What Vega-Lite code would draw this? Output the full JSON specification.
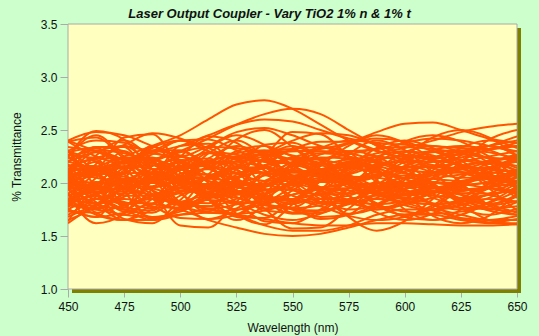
{
"$schema": "https://vega.github.io/schema/vega-lite/v6.json",
"autosize": "none",
"width": 449,
"height": 265,
"padding": {"left": 68, "top": 24, "right": 22, "bottom": 47},
"background": "#ccffcc",
"config": {"view": {"stroke": null}, "font": "Liberation Sans"},
"title": {"text": "Laser Output Coupler - Vary TiO2 1% n & 1% t", "font": "Liberation Sans", "fontSize": 13, "fontWeight": "bold", "fontStyle": "italic", "color": "#111111", "anchor": "middle", "dx": -23, "offset": -3},
"datasets": {
"frame": [{"x1": 450, "x2": 650, "y1": 1, "y2": 3.5}],
"curves": [
{"c":1,"w":450,"t":2.05},{"c":1,"w":462.5,"t":2.29},{"c":1,"w":475,"t":2.21},{"c":1,"w":487.5,"t":1.93},{"c":1,"w":500,"t":1.81},{"c":1,"w":512.5,"t":1.97},{"c":1,"w":525,"t":2.21},{"c":1,"w":537.5,"t":2.30},{"c":1,"w":550,"t":2.14},{"c":1,"w":562.5,"t":1.93},{"c":1,"w":575,"t":1.81},{"c":1,"w":587.5,"t":1.86},{"c":1,"w":600,"t":2.05},{"c":1,"w":612.5,"t":2.23},{"c":1,"w":625,"t":2.30},{"c":1,"w":637.5,"t":2.23},{"c":1,"w":650,"t":2.05},
{"c":2,"w":450,"t":2.30},{"c":2,"w":462.5,"t":2.10},{"c":2,"w":475,"t":1.77},{"c":2,"w":487.5,"t":1.74},{"c":2,"w":500,"t":2.05},{"c":2,"w":512.5,"t":2.28},{"c":2,"w":525,"t":2.23},{"c":2,"w":537.5,"t":1.95},{"c":2,"w":550,"t":1.72},{"c":2,"w":562.5,"t":1.74},{"c":2,"w":575,"t":1.95},{"c":2,"w":587.5,"t":2.19},{"c":2,"w":600,"t":2.30},{"c":2,"w":612.5,"t":2.21},{"c":2,"w":625,"t":2.00},{"c":2,"w":637.5,"t":1.79},{"c":2,"w":650,"t":1.70},
{"c":3,"w":450,"t":2.10},{"c":3,"w":462.5,"t":1.91},{"c":3,"w":475,"t":1.97},{"c":3,"w":487.5,"t":2.20},{"c":3,"w":500,"t":2.30},{"c":3,"w":512.5,"t":2.17},{"c":3,"w":525,"t":1.97},{"c":3,"w":537.5,"t":1.90},{"c":3,"w":550,"t":2.03},{"c":3,"w":562.5,"t":2.20},{"c":3,"w":575,"t":2.30},{"c":3,"w":587.5,"t":2.25},{"c":3,"w":600,"t":2.10},{"c":3,"w":612.5,"t":1.96},{"c":3,"w":625,"t":1.90},{"c":3,"w":637.5,"t":1.96},{"c":3,"w":650,"t":2.10},
{"c":4,"w":450,"t":1.70},{"c":4,"w":462.5,"t":1.87},{"c":4,"w":475,"t":2.14},{"c":4,"w":487.5,"t":2.17},{"c":4,"w":500,"t":1.91},{"c":4,"w":512.5,"t":1.72},{"c":4,"w":525,"t":1.76},{"c":4,"w":537.5,"t":1.99},{"c":4,"w":550,"t":2.19},{"c":4,"w":562.5,"t":2.17},{"c":4,"w":575,"t":1.99},{"c":4,"w":587.5,"t":1.79},{"c":4,"w":600,"t":1.70},{"c":4,"w":612.5,"t":1.77},{"c":4,"w":625,"t":1.95},{"c":4,"w":637.5,"t":2.13},{"c":4,"w":650,"t":2.20},
{"c":5,"w":450,"t":2.29},{"c":5,"w":462.5,"t":2.33},{"c":5,"w":475,"t":2.13},{"c":5,"w":487.5,"t":1.96},{"c":5,"w":500,"t":2.04},{"c":5,"w":512.5,"t":2.23},{"c":5,"w":525,"t":2.35},{"c":5,"w":537.5,"t":2.26},{"c":5,"w":550,"t":2.07},{"c":5,"w":562.5,"t":1.96},{"c":5,"w":575,"t":1.99},{"c":5,"w":587.5,"t":2.13},{"c":5,"w":600,"t":2.29},{"c":5,"w":612.5,"t":2.35},{"c":5,"w":625,"t":2.29},{"c":5,"w":637.5,"t":2.15},{"c":5,"w":650,"t":2.01},
{"c":6,"w":450,"t":2.04},{"c":6,"w":462.5,"t":1.82},{"c":6,"w":475,"t":1.70},{"c":6,"w":487.5,"t":1.85},{"c":6,"w":500,"t":2.06},{"c":6,"w":512.5,"t":2.08},{"c":6,"w":525,"t":1.92},{"c":6,"w":537.5,"t":1.74},{"c":6,"w":550,"t":1.72},{"c":6,"w":562.5,"t":1.85},{"c":6,"w":575,"t":2.01},{"c":6,"w":587.5,"t":2.10},{"c":6,"w":600,"t":2.04},{"c":6,"w":612.5,"t":1.90},{"c":6,"w":625,"t":1.76},{"c":6,"w":637.5,"t":1.70},{"c":6,"w":650,"t":1.76},
{"c":7,"w":450,"t":1.75},{"c":7,"w":462.5,"t":1.68},{"c":7,"w":475,"t":2.03},{"c":7,"w":487.5,"t":2.34},{"c":7,"w":500,"t":2.20},{"c":7,"w":512.5,"t":1.85},{"c":7,"w":525,"t":1.65},{"c":7,"w":537.5,"t":1.80},{"c":7,"w":550,"t":2.15},{"c":7,"w":562.5,"t":2.34},{"c":7,"w":575,"t":2.29},{"c":7,"w":587.5,"t":2.03},{"c":7,"w":600,"t":1.75},{"c":7,"w":612.5,"t":1.65},{"c":7,"w":625,"t":1.75},{"c":7,"w":637.5,"t":2.00},{"c":7,"w":650,"t":2.25},
{"c":8,"w":450,"t":1.84},{"c":8,"w":462.5,"t":2.18},{"c":8,"w":475,"t":2.35},{"c":8,"w":487.5,"t":2.13},{"c":8,"w":500,"t":1.80},{"c":8,"w":512.5,"t":1.78},{"c":8,"w":525,"t":2.02},{"c":8,"w":537.5,"t":2.30},{"c":8,"w":550,"t":2.32},{"c":8,"w":562.5,"t":2.13},{"c":8,"w":575,"t":1.88},{"c":8,"w":587.5,"t":1.75},{"c":8,"w":600,"t":1.84},{"c":8,"w":612.5,"t":2.05},{"c":8,"w":625,"t":2.26},{"c":8,"w":637.5,"t":2.35},{"c":8,"w":650,"t":2.26},
{"c":9,"w":450,"t":2.20},{"c":9,"w":462.5,"t":2.34},{"c":9,"w":475,"t":2.30},{"c":9,"w":487.5,"t":2.13},{"c":9,"w":500,"t":2.05},{"c":9,"w":512.5,"t":2.15},{"c":9,"w":525,"t":2.30},{"c":9,"w":537.5,"t":2.35},{"c":9,"w":550,"t":2.25},{"c":9,"w":562.5,"t":2.13},{"c":9,"w":575,"t":2.05},{"c":9,"w":587.5,"t":2.08},{"c":9,"w":600,"t":2.20},{"c":9,"w":612.5,"t":2.31},{"c":9,"w":625,"t":2.35},{"c":9,"w":637.5,"t":2.31},{"c":9,"w":650,"t":2.20},
{"c":10,"w":450,"t":2.00},{"c":10,"w":462.5,"t":1.90},{"c":10,"w":475,"t":1.73},{"c":10,"w":487.5,"t":1.72},{"c":10,"w":500,"t":1.88},{"c":10,"w":512.5,"t":1.99},{"c":10,"w":525,"t":1.97},{"c":10,"w":537.5,"t":1.82},{"c":10,"w":550,"t":1.71},{"c":10,"w":562.5,"t":1.72},{"c":10,"w":575,"t":1.82},{"c":10,"w":587.5,"t":1.95},{"c":10,"w":600,"t":2.00},{"c":10,"w":612.5,"t":1.96},{"c":10,"w":625,"t":1.85},{"c":10,"w":637.5,"t":1.74},{"c":10,"w":650,"t":1.70},
{"c":11,"w":450,"t":2.25},{"c":11,"w":462.5,"t":2.11},{"c":11,"w":475,"t":2.15},{"c":11,"w":487.5,"t":2.33},{"c":11,"w":500,"t":2.40},{"c":11,"w":512.5,"t":2.30},{"c":11,"w":525,"t":2.15},{"c":11,"w":537.5,"t":2.10},{"c":11,"w":550,"t":2.20},{"c":11,"w":562.5,"t":2.33},{"c":11,"w":575,"t":2.40},{"c":11,"w":587.5,"t":2.37},{"c":11,"w":600,"t":2.25},{"c":11,"w":612.5,"t":2.14},{"c":11,"w":625,"t":2.10},{"c":11,"w":637.5,"t":2.14},{"c":11,"w":650,"t":2.25},
{"c":12,"w":450,"t":1.65},{"c":12,"w":462.5,"t":1.78},{"c":12,"w":475,"t":2.00},{"c":12,"w":487.5,"t":2.02},{"c":12,"w":500,"t":1.82},{"c":12,"w":512.5,"t":1.66},{"c":12,"w":525,"t":1.70},{"c":12,"w":537.5,"t":1.88},{"c":12,"w":550,"t":2.04},{"c":12,"w":562.5,"t":2.02},{"c":12,"w":575,"t":1.88},{"c":12,"w":587.5,"t":1.72},{"c":12,"w":600,"t":1.65},{"c":12,"w":612.5,"t":1.71},{"c":12,"w":625,"t":1.85},{"c":12,"w":637.5,"t":1.99},{"c":12,"w":650,"t":2.05},
{"c":13,"w":450,"t":2.11},{"c":13,"w":462.5,"t":2.14},{"c":13,"w":475,"t":1.99},{"c":13,"w":487.5,"t":1.85},{"c":13,"w":500,"t":1.91},{"c":13,"w":512.5,"t":2.06},{"c":13,"w":525,"t":2.15},{"c":13,"w":537.5,"t":2.09},{"c":13,"w":550,"t":1.94},{"c":13,"w":562.5,"t":1.85},{"c":13,"w":575,"t":1.88},{"c":13,"w":587.5,"t":1.99},{"c":13,"w":600,"t":2.11},{"c":13,"w":612.5,"t":2.15},{"c":13,"w":625,"t":2.11},{"c":13,"w":637.5,"t":2.00},{"c":13,"w":650,"t":1.89},
{"c":14,"w":450,"t":2.31},{"c":14,"w":462.5,"t":1.97},{"c":14,"w":475,"t":1.80},{"c":14,"w":487.5,"t":2.02},{"c":14,"w":500,"t":2.35},{"c":14,"w":512.5,"t":2.37},{"c":14,"w":525,"t":2.13},{"c":14,"w":537.5,"t":1.85},{"c":14,"w":550,"t":1.83},{"c":14,"w":562.5,"t":2.02},{"c":14,"w":575,"t":2.27},{"c":14,"w":587.5,"t":2.40},{"c":14,"w":600,"t":2.31},{"c":14,"w":612.5,"t":2.10},{"c":14,"w":625,"t":1.89},{"c":14,"w":637.5,"t":1.80},{"c":14,"w":650,"t":1.89},
{"c":15,"w":450,"t":1.84},{"c":15,"w":462.5,"t":1.81},{"c":15,"w":475,"t":1.96},{"c":15,"w":487.5,"t":2.10},{"c":15,"w":500,"t":2.04},{"c":15,"w":512.5,"t":1.89},{"c":15,"w":525,"t":1.80},{"c":15,"w":537.5,"t":1.86},{"c":15,"w":550,"t":2.01},{"c":15,"w":562.5,"t":2.10},{"c":15,"w":575,"t":2.07},{"c":15,"w":587.5,"t":1.96},{"c":15,"w":600,"t":1.84},{"c":15,"w":612.5,"t":1.80},{"c":15,"w":625,"t":1.84},{"c":15,"w":637.5,"t":1.95},{"c":15,"w":650,"t":2.06},
{"c":16,"w":450,"t":1.97},{"c":16,"w":462.5,"t":2.26},{"c":16,"w":475,"t":2.40},{"c":16,"w":487.5,"t":2.22},{"c":16,"w":500,"t":1.95},{"c":16,"w":512.5,"t":1.92},{"c":16,"w":525,"t":2.13},{"c":16,"w":537.5,"t":2.36},{"c":16,"w":550,"t":2.38},{"c":16,"w":562.5,"t":2.22},{"c":16,"w":575,"t":2.01},{"c":16,"w":587.5,"t":1.90},{"c":16,"w":600,"t":1.97},{"c":16,"w":612.5,"t":2.15},{"c":16,"w":625,"t":2.33},{"c":16,"w":637.5,"t":2.40},{"c":16,"w":650,"t":2.33},
{"c":17,"w":450,"t":2.00},{"c":17,"w":462.5,"t":2.09},{"c":17,"w":475,"t":2.06},{"c":17,"w":487.5,"t":1.95},{"c":17,"w":500,"t":1.90},{"c":17,"w":512.5,"t":1.97},{"c":17,"w":525,"t":2.06},{"c":17,"w":537.5,"t":2.10},{"c":17,"w":550,"t":2.03},{"c":17,"w":562.5,"t":1.95},{"c":17,"w":575,"t":1.90},{"c":17,"w":587.5,"t":1.92},{"c":17,"w":600,"t":2.00},{"c":17,"w":612.5,"t":2.07},{"c":17,"w":625,"t":2.10},{"c":17,"w":637.5,"t":2.07},{"c":17,"w":650,"t":2.00},
{"c":18,"w":450,"t":2.20},{"c":18,"w":462.5,"t":2.13},{"c":18,"w":475,"t":2.02},{"c":18,"w":487.5,"t":2.01},{"c":18,"w":500,"t":2.12},{"c":18,"w":512.5,"t":2.19},{"c":18,"w":525,"t":2.18},{"c":18,"w":537.5,"t":2.08},{"c":18,"w":550,"t":2.01},{"c":18,"w":562.5,"t":2.01},{"c":18,"w":575,"t":2.08},{"c":18,"w":587.5,"t":2.16},{"c":18,"w":600,"t":2.20},{"c":18,"w":612.5,"t":2.17},{"c":18,"w":625,"t":2.10},{"c":18,"w":637.5,"t":2.03},{"c":18,"w":650,"t":2.00},
{"c":19,"w":450,"t":1.90},{"c":19,"w":462.5,"t":1.62},{"c":19,"w":475,"t":1.71},{"c":19,"w":487.5,"t":2.05},{"c":19,"w":500,"t":2.19},{"c":19,"w":512.5,"t":2.00},{"c":19,"w":525,"t":1.71},{"c":19,"w":537.5,"t":1.61},{"c":19,"w":550,"t":1.80},{"c":19,"w":562.5,"t":2.05},{"c":19,"w":575,"t":2.19},{"c":19,"w":587.5,"t":2.13},{"c":19,"w":600,"t":1.90},{"c":19,"w":612.5,"t":1.69},{"c":19,"w":625,"t":1.62},{"c":19,"w":637.5,"t":1.69},{"c":19,"w":650,"t":1.90},
{"c":20,"w":450,"t":1.85},{"c":20,"w":462.5,"t":1.98},{"c":20,"w":475,"t":2.20},{"c":20,"w":487.5,"t":2.22},{"c":20,"w":500,"t":2.02},{"c":20,"w":512.5,"t":1.86},{"c":20,"w":525,"t":1.90},{"c":20,"w":537.5,"t":2.08},{"c":20,"w":550,"t":2.24},{"c":20,"w":562.5,"t":2.22},{"c":20,"w":575,"t":2.08},{"c":20,"w":587.5,"t":1.92},{"c":20,"w":600,"t":1.85},{"c":20,"w":612.5,"t":1.91},{"c":20,"w":625,"t":2.05},{"c":20,"w":637.5,"t":2.19},{"c":20,"w":650,"t":2.25},
{"c":21,"w":450,"t":1.89},{"c":21,"w":462.5,"t":1.91},{"c":21,"w":475,"t":1.79},{"c":21,"w":487.5,"t":1.68},{"c":21,"w":500,"t":1.73},{"c":21,"w":512.5,"t":1.85},{"c":21,"w":525,"t":1.92},{"c":21,"w":537.5,"t":1.87},{"c":21,"w":550,"t":1.75},{"c":21,"w":562.5,"t":1.68},{"c":21,"w":575,"t":1.70},{"c":21,"w":587.5,"t":1.79},{"c":21,"w":600,"t":1.89},{"c":21,"w":612.5,"t":1.92},{"c":21,"w":625,"t":1.89},{"c":21,"w":637.5,"t":1.80},{"c":21,"w":650,"t":1.72},
{"c":22,"w":450,"t":2.39},{"c":22,"w":462.5,"t":2.25},{"c":22,"w":475,"t":2.18},{"c":22,"w":487.5,"t":2.27},{"c":22,"w":500,"t":2.40},{"c":22,"w":512.5,"t":2.41},{"c":22,"w":525,"t":2.31},{"c":22,"w":537.5,"t":2.20},{"c":22,"w":550,"t":2.19},{"c":22,"w":562.5,"t":2.27},{"c":22,"w":575,"t":2.37},{"c":22,"w":587.5,"t":2.42},{"c":22,"w":600,"t":2.39},{"c":22,"w":612.5,"t":2.30},{"c":22,"w":625,"t":2.22},{"c":22,"w":637.5,"t":2.18},{"c":22,"w":650,"t":2.22},
{"c":23,"w":450,"t":1.97},{"c":23,"w":462.5,"t":1.94},{"c":23,"w":475,"t":2.12},{"c":23,"w":487.5,"t":2.28},{"c":23,"w":500,"t":2.20},{"c":23,"w":512.5,"t":2.02},{"c":23,"w":525,"t":1.92},{"c":23,"w":537.5,"t":2.00},{"c":23,"w":550,"t":2.18},{"c":23,"w":562.5,"t":2.28},{"c":23,"w":575,"t":2.25},{"c":23,"w":587.5,"t":2.12},{"c":23,"w":600,"t":1.97},{"c":23,"w":612.5,"t":1.92},{"c":23,"w":625,"t":1.97},{"c":23,"w":637.5,"t":2.10},{"c":23,"w":650,"t":2.23},
{"c":24,"w":450,"t":1.83},{"c":24,"w":462.5,"t":1.94},{"c":24,"w":475,"t":2.00},{"c":24,"w":487.5,"t":1.93},{"c":24,"w":500,"t":1.82},{"c":24,"w":512.5,"t":1.81},{"c":24,"w":525,"t":1.89},{"c":24,"w":537.5,"t":1.98},{"c":24,"w":550,"t":1.99},{"c":24,"w":562.5,"t":1.93},{"c":24,"w":575,"t":1.84},{"c":24,"w":587.5,"t":1.80},{"c":24,"w":600,"t":1.83},{"c":24,"w":612.5,"t":1.90},{"c":24,"w":625,"t":1.97},{"c":24,"w":637.5,"t":2.00},{"c":24,"w":650,"t":1.97},
{"c":25,"w":450,"t":2.25},{"c":25,"w":462.5,"t":2.49},{"c":25,"w":475,"t":2.41},{"c":25,"w":487.5,"t":2.13},{"c":25,"w":500,"t":2.01},{"c":25,"w":512.5,"t":2.17},{"c":25,"w":525,"t":2.41},{"c":25,"w":537.5,"t":2.50},{"c":25,"w":550,"t":2.34},{"c":25,"w":562.5,"t":2.13},{"c":25,"w":575,"t":2.01},{"c":25,"w":587.5,"t":2.06},{"c":25,"w":600,"t":2.25},{"c":25,"w":612.5,"t":2.43},{"c":25,"w":625,"t":2.50},{"c":25,"w":637.5,"t":2.43},{"c":25,"w":650,"t":2.25},
{"c":26,"w":450,"t":2.05},{"c":26,"w":462.5,"t":1.89},{"c":26,"w":475,"t":1.66},{"c":26,"w":487.5,"t":1.62},{"c":26,"w":500,"t":1.84},{"c":26,"w":512.5,"t":2.04},{"c":26,"w":525,"t":1.99},{"c":26,"w":537.5,"t":1.76},{"c":26,"w":550,"t":1.57},{"c":26,"w":562.5,"t":1.58},{"c":26,"w":575,"t":1.76},{"c":26,"w":587.5,"t":1.96},{"c":26,"w":600,"t":2.05},{"c":26,"w":612.5,"t":1.98},{"c":26,"w":625,"t":1.80},{"c":26,"w":637.5,"t":1.65},{"c":26,"w":650,"t":1.61},
{"c":27,"w":450,"t":2.00},{"c":27,"w":462.5,"t":1.81},{"c":27,"w":475,"t":1.87},{"c":27,"w":487.5,"t":2.10},{"c":27,"w":500,"t":2.20},{"c":27,"w":512.5,"t":2.07},{"c":27,"w":525,"t":1.87},{"c":27,"w":537.5,"t":1.80},{"c":27,"w":550,"t":1.93},{"c":27,"w":562.5,"t":2.10},{"c":27,"w":575,"t":2.20},{"c":27,"w":587.5,"t":2.15},{"c":27,"w":600,"t":2.00},{"c":27,"w":612.5,"t":1.86},{"c":27,"w":625,"t":1.80},{"c":27,"w":637.5,"t":1.86},{"c":27,"w":650,"t":2.00},
{"c":28,"w":450,"t":1.90},{"c":28,"w":462.5,"t":2.10},{"c":28,"w":475,"t":2.43},{"c":28,"w":487.5,"t":2.46},{"c":28,"w":500,"t":2.15},{"c":28,"w":512.5,"t":1.92},{"c":28,"w":525,"t":1.97},{"c":28,"w":537.5,"t":2.25},{"c":28,"w":550,"t":2.48},{"c":28,"w":562.5,"t":2.46},{"c":28,"w":575,"t":2.25},{"c":28,"w":587.5,"t":2.01},{"c":28,"w":600,"t":1.90},{"c":28,"w":612.5,"t":1.99},{"c":28,"w":625,"t":2.20},{"c":28,"w":637.5,"t":2.41},{"c":28,"w":650,"t":2.50},
{"c":29,"w":450,"t":2.16},{"c":29,"w":462.5,"t":2.22},{"c":29,"w":475,"t":1.92},{"c":29,"w":487.5,"t":1.66},{"c":29,"w":500,"t":1.78},{"c":29,"w":512.5,"t":2.08},{"c":29,"w":525,"t":2.25},{"c":29,"w":537.5,"t":2.12},{"c":29,"w":550,"t":1.82},{"c":29,"w":562.5,"t":1.66},{"c":29,"w":575,"t":1.70},{"c":29,"w":587.5,"t":1.92},{"c":29,"w":600,"t":2.16},{"c":29,"w":612.5,"t":2.25},{"c":29,"w":625,"t":2.16},{"c":29,"w":637.5,"t":1.95},{"c":29,"w":650,"t":1.74},
{"c":30,"w":450,"t":2.18},{"c":30,"w":462.5,"t":1.90},{"c":30,"w":475,"t":1.75},{"c":30,"w":487.5,"t":1.94},{"c":30,"w":500,"t":2.21},{"c":30,"w":512.5,"t":2.23},{"c":30,"w":525,"t":2.02},{"c":30,"w":537.5,"t":1.80},{"c":30,"w":550,"t":1.77},{"c":30,"w":562.5,"t":1.94},{"c":30,"w":575,"t":2.14},{"c":30,"w":587.5,"t":2.25},{"c":30,"w":600,"t":2.18},{"c":30,"w":612.5,"t":2.00},{"c":30,"w":625,"t":1.82},{"c":30,"w":637.5,"t":1.75},{"c":30,"w":650,"t":1.82},
{"c":31,"w":450,"t":2.13},{"c":31,"w":462.5,"t":2.11},{"c":31,"w":475,"t":2.21},{"c":31,"w":487.5,"t":2.30},{"c":31,"w":500,"t":2.26},{"c":31,"w":512.5,"t":2.16},{"c":31,"w":525,"t":2.10},{"c":31,"w":537.5,"t":2.14},{"c":31,"w":550,"t":2.24},{"c":31,"w":562.5,"t":2.30},{"c":31,"w":575,"t":2.28},{"c":31,"w":587.5,"t":2.21},{"c":31,"w":600,"t":2.13},{"c":31,"w":612.5,"t":2.10},{"c":31,"w":625,"t":2.13},{"c":31,"w":637.5,"t":2.20},{"c":31,"w":650,"t":2.27},
{"c":32,"w":450,"t":1.64},{"c":32,"w":462.5,"t":1.98},{"c":32,"w":475,"t":2.15},{"c":32,"w":487.5,"t":1.93},{"c":32,"w":500,"t":1.60},{"c":32,"w":512.5,"t":1.58},{"c":32,"w":525,"t":1.82},{"c":32,"w":537.5,"t":2.10},{"c":32,"w":550,"t":2.12},{"c":32,"w":562.5,"t":1.93},{"c":32,"w":575,"t":1.68},{"c":32,"w":587.5,"t":1.55},{"c":32,"w":600,"t":1.64},{"c":32,"w":612.5,"t":1.85},{"c":32,"w":625,"t":2.06},{"c":32,"w":637.5,"t":2.15},{"c":32,"w":650,"t":2.06},
{"c":33,"w":450,"t":2.05},{"c":33,"w":462.5,"t":2.15},{"c":33,"w":475,"t":2.25},{"c":33,"w":487.5,"t":2.35},{"c":33,"w":500,"t":2.45},{"c":33,"w":512.5,"t":2.60},{"c":33,"w":525,"t":2.74},{"c":33,"w":537.5,"t":2.78},{"c":33,"w":550,"t":2.70},{"c":33,"w":562.5,"t":2.55},{"c":33,"w":575,"t":2.40},{"c":33,"w":587.5,"t":2.30},{"c":33,"w":600,"t":2.25},{"c":33,"w":612.5,"t":2.25},{"c":33,"w":625,"t":2.30},{"c":33,"w":637.5,"t":2.35},{"c":33,"w":650,"t":2.40},
{"c":34,"w":450,"t":1.95},{"c":34,"w":462.5,"t":2.00},{"c":34,"w":475,"t":2.10},{"c":34,"w":487.5,"t":2.20},{"c":34,"w":500,"t":2.30},{"c":34,"w":512.5,"t":2.42},{"c":34,"w":525,"t":2.55},{"c":34,"w":537.5,"t":2.65},{"c":34,"w":550,"t":2.70},{"c":34,"w":562.5,"t":2.65},{"c":34,"w":575,"t":2.50},{"c":34,"w":587.5,"t":2.35},{"c":34,"w":600,"t":2.20},{"c":34,"w":612.5,"t":2.10},{"c":34,"w":625,"t":2.05},{"c":34,"w":637.5,"t":2.05},{"c":34,"w":650,"t":2.10},
{"c":35,"w":450,"t":2.00},{"c":35,"w":462.5,"t":1.95},{"c":35,"w":475,"t":1.90},{"c":35,"w":487.5,"t":1.95},{"c":35,"w":500,"t":2.05},{"c":35,"w":512.5,"t":2.15},{"c":35,"w":525,"t":2.25},{"c":35,"w":537.5,"t":2.30},{"c":35,"w":550,"t":2.30},{"c":35,"w":562.5,"t":2.32},{"c":35,"w":575,"t":2.38},{"c":35,"w":587.5,"t":2.48},{"c":35,"w":600,"t":2.56},{"c":35,"w":612.5,"t":2.57},{"c":35,"w":625,"t":2.50},{"c":35,"w":637.5,"t":2.42},{"c":35,"w":650,"t":2.38},
{"c":36,"w":450,"t":2.10},{"c":36,"w":462.5,"t":2.05},{"c":36,"w":475,"t":2.00},{"c":36,"w":487.5,"t":2.05},{"c":36,"w":500,"t":2.15},{"c":36,"w":512.5,"t":2.20},{"c":36,"w":525,"t":2.20},{"c":36,"w":537.5,"t":2.15},{"c":36,"w":550,"t":2.10},{"c":36,"w":562.5,"t":2.12},{"c":36,"w":575,"t":2.20},{"c":36,"w":587.5,"t":2.28},{"c":36,"w":600,"t":2.33},{"c":36,"w":612.5,"t":2.40},{"c":36,"w":625,"t":2.48},{"c":36,"w":637.5,"t":2.53},{"c":36,"w":650,"t":2.56},
{"c":37,"w":450,"t":2.40},{"c":37,"w":462.5,"t":2.48},{"c":37,"w":475,"t":2.45},{"c":37,"w":487.5,"t":2.35},{"c":37,"w":500,"t":2.25},{"c":37,"w":512.5,"t":2.20},{"c":37,"w":525,"t":2.20},{"c":37,"w":537.5,"t":2.25},{"c":37,"w":550,"t":2.30},{"c":37,"w":562.5,"t":2.30},{"c":37,"w":575,"t":2.25},{"c":37,"w":587.5,"t":2.20},{"c":37,"w":600,"t":2.15},{"c":37,"w":612.5,"t":2.15},{"c":37,"w":625,"t":2.20},{"c":37,"w":637.5,"t":2.25},{"c":37,"w":650,"t":2.30},
{"c":38,"w":450,"t":1.62},{"c":38,"w":462.5,"t":1.80},{"c":38,"w":475,"t":1.95},{"c":38,"w":487.5,"t":2.00},{"c":38,"w":500,"t":2.00},{"c":38,"w":512.5,"t":1.95},{"c":38,"w":525,"t":1.90},{"c":38,"w":537.5,"t":1.85},{"c":38,"w":550,"t":1.85},{"c":38,"w":562.5,"t":1.90},{"c":38,"w":575,"t":1.95},{"c":38,"w":587.5,"t":2.00},{"c":38,"w":600,"t":2.00},{"c":38,"w":612.5,"t":1.95},{"c":38,"w":625,"t":1.90},{"c":38,"w":637.5,"t":1.90},{"c":38,"w":650,"t":1.95},
{"c":39,"w":450,"t":1.85},{"c":39,"w":462.5,"t":1.70},{"c":39,"w":475,"t":1.65},{"c":39,"w":487.5,"t":1.65},{"c":39,"w":500,"t":1.70},{"c":39,"w":512.5,"t":1.75},{"c":39,"w":525,"t":1.70},{"c":39,"w":537.5,"t":1.60},{"c":39,"w":550,"t":1.55},{"c":39,"w":562.5,"t":1.55},{"c":39,"w":575,"t":1.60},{"c":39,"w":587.5,"t":1.70},{"c":39,"w":600,"t":1.75},{"c":39,"w":612.5,"t":1.75},{"c":39,"w":625,"t":1.70},{"c":39,"w":637.5,"t":1.65},{"c":39,"w":650,"t":1.65},
{"c":40,"w":450,"t":1.75},{"c":40,"w":462.5,"t":1.68},{"c":40,"w":475,"t":1.72},{"c":40,"w":487.5,"t":1.80},{"c":40,"w":500,"t":1.75},{"c":40,"w":512.5,"t":1.65},{"c":40,"w":525,"t":1.58},{"c":40,"w":537.5,"t":1.52},{"c":40,"w":550,"t":1.50},{"c":40,"w":562.5,"t":1.52},{"c":40,"w":575,"t":1.58},{"c":40,"w":587.5,"t":1.65},{"c":40,"w":600,"t":1.70},{"c":40,"w":612.5,"t":1.70},{"c":40,"w":625,"t":1.65},{"c":40,"w":637.5,"t":1.62},{"c":40,"w":650,"t":1.62},
{"c":41,"w":450,"t":1.80},{"c":41,"w":462.5,"t":1.75},{"c":41,"w":475,"t":1.70},{"c":41,"w":487.5,"t":1.68},{"c":41,"w":500,"t":1.70},{"c":41,"w":512.5,"t":1.72},{"c":41,"w":525,"t":1.70},{"c":41,"w":537.5,"t":1.66},{"c":41,"w":550,"t":1.62},{"c":41,"w":562.5,"t":1.60},{"c":41,"w":575,"t":1.60},{"c":41,"w":587.5,"t":1.62},{"c":41,"w":600,"t":1.62},{"c":41,"w":612.5,"t":1.61},{"c":41,"w":625,"t":1.60},{"c":41,"w":637.5,"t":1.60},{"c":41,"w":650,"t":1.61},
{"c":42,"w":450,"t":2.20},{"c":42,"w":462.5,"t":2.30},{"c":42,"w":475,"t":2.35},{"c":42,"w":487.5,"t":2.30},{"c":42,"w":500,"t":2.35},{"c":42,"w":512.5,"t":2.45},{"c":42,"w":525,"t":2.55},{"c":42,"w":537.5,"t":2.60},{"c":42,"w":550,"t":2.58},{"c":42,"w":562.5,"t":2.50},{"c":42,"w":575,"t":2.42},{"c":42,"w":587.5,"t":2.38},{"c":42,"w":600,"t":2.36},{"c":42,"w":612.5,"t":2.35},{"c":42,"w":625,"t":2.33},{"c":42,"w":637.5,"t":2.32},{"c":42,"w":650,"t":2.35},
{"c":43,"w":450,"t":2.30},{"c":43,"w":462.5,"t":2.40},{"c":43,"w":475,"t":2.38},{"c":43,"w":487.5,"t":2.28},{"c":43,"w":500,"t":2.25},{"c":43,"w":512.5,"t":2.35},{"c":43,"w":525,"t":2.48},{"c":43,"w":537.5,"t":2.52},{"c":43,"w":550,"t":2.45},{"c":43,"w":562.5,"t":2.35},{"c":43,"w":575,"t":2.30},{"c":43,"w":587.5,"t":2.32},{"c":43,"w":600,"t":2.38},{"c":43,"w":612.5,"t":2.42},{"c":43,"w":625,"t":2.40},{"c":43,"w":637.5,"t":2.35},{"c":43,"w":650,"t":2.30},
{"c":44,"w":450,"t":2.00},{"c":44,"w":462.5,"t":2.20},{"c":44,"w":475,"t":2.00},{"c":44,"w":487.5,"t":1.80},{"c":44,"w":500,"t":2.00},{"c":44,"w":512.5,"t":2.19},{"c":44,"w":525,"t":2.13},{"c":44,"w":537.5,"t":1.90},{"c":44,"w":550,"t":1.80},{"c":44,"w":562.5,"t":1.92},{"c":44,"w":575,"t":2.10},{"c":44,"w":587.5,"t":2.20},{"c":44,"w":600,"t":2.13},{"c":44,"w":612.5,"t":1.98},{"c":44,"w":625,"t":1.85},{"c":44,"w":637.5,"t":1.80},{"c":44,"w":650,"t":1.87},
{"c":45,"w":450,"t":2.25},{"c":45,"w":462.5,"t":2.10},{"c":45,"w":475,"t":1.95},{"c":45,"w":487.5,"t":2.10},{"c":45,"w":500,"t":2.25},{"c":45,"w":512.5,"t":2.15},{"c":45,"w":525,"t":1.98},{"c":45,"w":537.5,"t":1.97},{"c":45,"w":550,"t":2.13},{"c":45,"w":562.5,"t":2.24},{"c":45,"w":575,"t":2.23},{"c":45,"w":587.5,"t":2.11},{"c":45,"w":600,"t":1.98},{"c":45,"w":612.5,"t":1.95},{"c":45,"w":625,"t":2.00},{"c":45,"w":637.5,"t":2.11},{"c":45,"w":650,"t":2.22},
{"c":46,"w":450,"t":2.09},{"c":46,"w":462.5,"t":2.09},{"c":46,"w":475,"t":1.81},{"c":46,"w":487.5,"t":1.81},{"c":46,"w":500,"t":2.09},{"c":46,"w":512.5,"t":2.13},{"c":46,"w":525,"t":1.93},{"c":46,"w":537.5,"t":1.76},{"c":46,"w":550,"t":1.84},{"c":46,"w":562.5,"t":2.02},{"c":46,"w":575,"t":2.14},{"c":46,"w":587.5,"t":2.10},{"c":46,"w":600,"t":1.93},{"c":46,"w":612.5,"t":1.80},{"c":46,"w":625,"t":1.75},{"c":46,"w":637.5,"t":1.82},{"c":46,"w":650,"t":1.97},
{"c":47,"w":450,"t":2.31},{"c":47,"w":462.5,"t":2.09},{"c":47,"w":475,"t":2.09},{"c":47,"w":487.5,"t":2.31},{"c":47,"w":500,"t":2.31},{"c":47,"w":512.5,"t":2.14},{"c":47,"w":525,"t":2.05},{"c":47,"w":537.5,"t":2.16},{"c":47,"w":550,"t":2.32},{"c":47,"w":562.5,"t":2.34},{"c":47,"w":575,"t":2.24},{"c":47,"w":587.5,"t":2.10},{"c":47,"w":600,"t":2.05},{"c":47,"w":612.5,"t":2.10},{"c":47,"w":625,"t":2.21},{"c":47,"w":637.5,"t":2.32},{"c":47,"w":650,"t":2.35},
{"c":48,"w":450,"t":1.90},{"c":48,"w":462.5,"t":1.75},{"c":48,"w":475,"t":1.90},{"c":48,"w":487.5,"t":2.05},{"c":48,"w":500,"t":1.90},{"c":48,"w":512.5,"t":1.76},{"c":48,"w":525,"t":1.80},{"c":48,"w":537.5,"t":1.98},{"c":48,"w":550,"t":2.05},{"c":48,"w":562.5,"t":1.96},{"c":48,"w":575,"t":1.83},{"c":48,"w":587.5,"t":1.75},{"c":48,"w":600,"t":1.80},{"c":48,"w":612.5,"t":1.91},{"c":48,"w":625,"t":2.02},{"c":48,"w":637.5,"t":2.05},{"c":48,"w":650,"t":2.00},
{"c":49,"w":450,"t":1.80},{"c":49,"w":462.5,"t":2.05},{"c":49,"w":475,"t":2.30},{"c":49,"w":487.5,"t":2.05},{"c":49,"w":500,"t":1.80},{"c":49,"w":512.5,"t":1.97},{"c":49,"w":525,"t":2.24},{"c":49,"w":537.5,"t":2.27},{"c":49,"w":550,"t":2.01},{"c":49,"w":562.5,"t":1.82},{"c":49,"w":575,"t":1.83},{"c":49,"w":587.5,"t":2.03},{"c":49,"w":600,"t":2.24},{"c":49,"w":612.5,"t":2.30},{"c":49,"w":625,"t":2.21},{"c":49,"w":637.5,"t":2.03},{"c":49,"w":650,"t":1.86},
{"c":50,"w":450,"t":2.07},{"c":50,"w":462.5,"t":2.07},{"c":50,"w":475,"t":2.24},{"c":50,"w":487.5,"t":2.24},{"c":50,"w":500,"t":2.07},{"c":50,"w":512.5,"t":2.04},{"c":50,"w":525,"t":2.16},{"c":50,"w":537.5,"t":2.27},{"c":50,"w":550,"t":2.22},{"c":50,"w":562.5,"t":2.11},{"c":50,"w":575,"t":2.03},{"c":50,"w":587.5,"t":2.06},{"c":50,"w":600,"t":2.16},{"c":50,"w":612.5,"t":2.24},{"c":50,"w":625,"t":2.27},{"c":50,"w":637.5,"t":2.23},{"c":50,"w":650,"t":2.14},
{"c":51,"w":450,"t":1.77},{"c":51,"w":462.5,"t":1.94},{"c":51,"w":475,"t":1.94},{"c":51,"w":487.5,"t":1.77},{"c":51,"w":500,"t":1.77},{"c":51,"w":512.5,"t":1.90},{"c":51,"w":525,"t":1.97},{"c":51,"w":537.5,"t":1.88},{"c":51,"w":550,"t":1.75},{"c":51,"w":562.5,"t":1.74},{"c":51,"w":575,"t":1.82},{"c":51,"w":587.5,"t":1.93},{"c":51,"w":600,"t":1.97},{"c":51,"w":612.5,"t":1.93},{"c":51,"w":625,"t":1.84},{"c":51,"w":637.5,"t":1.76},{"c":51,"w":650,"t":1.73},
{"c":52,"w":450,"t":2.25},{"c":52,"w":462.5,"t":2.45},{"c":52,"w":475,"t":2.25},{"c":52,"w":487.5,"t":2.05},{"c":52,"w":500,"t":2.25},{"c":52,"w":512.5,"t":2.44},{"c":52,"w":525,"t":2.38},{"c":52,"w":537.5,"t":2.15},{"c":52,"w":550,"t":2.05},{"c":52,"w":562.5,"t":2.17},{"c":52,"w":575,"t":2.35},{"c":52,"w":587.5,"t":2.45},{"c":52,"w":600,"t":2.38},{"c":52,"w":612.5,"t":2.23},{"c":52,"w":625,"t":2.10},{"c":52,"w":637.5,"t":2.05},{"c":52,"w":650,"t":2.12},
{"c":53,"w":450,"t":1.95},{"c":53,"w":462.5,"t":1.80},{"c":53,"w":475,"t":1.65},{"c":53,"w":487.5,"t":1.80},{"c":53,"w":500,"t":1.95},{"c":53,"w":512.5,"t":1.85},{"c":53,"w":525,"t":1.68},{"c":53,"w":537.5,"t":1.67},{"c":53,"w":550,"t":1.83},{"c":53,"w":562.5,"t":1.94},{"c":53,"w":575,"t":1.93},{"c":53,"w":587.5,"t":1.81},{"c":53,"w":600,"t":1.68},{"c":53,"w":612.5,"t":1.65},{"c":53,"w":625,"t":1.70},{"c":53,"w":637.5,"t":1.81},{"c":53,"w":650,"t":1.92},
{"c":54,"w":450,"t":2.14},{"c":54,"w":462.5,"t":2.14},{"c":54,"w":475,"t":1.97},{"c":54,"w":487.5,"t":1.97},{"c":54,"w":500,"t":2.14},{"c":54,"w":512.5,"t":2.16},{"c":54,"w":525,"t":2.04},{"c":54,"w":537.5,"t":1.93},{"c":54,"w":550,"t":1.98},{"c":54,"w":562.5,"t":2.09},{"c":54,"w":575,"t":2.17},{"c":54,"w":587.5,"t":2.14},{"c":54,"w":600,"t":2.04},{"c":54,"w":612.5,"t":1.96},{"c":54,"w":625,"t":1.93},{"c":54,"w":637.5,"t":1.97},{"c":54,"w":650,"t":2.06},
{"c":55,"w":450,"t":2.13},{"c":55,"w":462.5,"t":1.77},{"c":55,"w":475,"t":1.77},{"c":55,"w":487.5,"t":2.13},{"c":55,"w":500,"t":2.13},{"c":55,"w":512.5,"t":1.85},{"c":55,"w":525,"t":1.70},{"c":55,"w":537.5,"t":1.89},{"c":55,"w":550,"t":2.16},{"c":55,"w":562.5,"t":2.19},{"c":55,"w":575,"t":2.02},{"c":55,"w":587.5,"t":1.79},{"c":55,"w":600,"t":1.70},{"c":55,"w":612.5,"t":1.79},{"c":55,"w":625,"t":1.97},{"c":55,"w":637.5,"t":2.14},{"c":55,"w":650,"t":2.20},
{"c":56,"w":450,"t":2.10},{"c":56,"w":462.5,"t":1.85},{"c":56,"w":475,"t":2.10},{"c":56,"w":487.5,"t":2.35},{"c":56,"w":500,"t":2.10},{"c":56,"w":512.5,"t":1.87},{"c":56,"w":525,"t":1.94},{"c":56,"w":537.5,"t":2.23},{"c":56,"w":550,"t":2.35},{"c":56,"w":562.5,"t":2.21},{"c":56,"w":575,"t":1.98},{"c":56,"w":587.5,"t":1.85},{"c":56,"w":600,"t":1.94},{"c":56,"w":612.5,"t":2.12},{"c":56,"w":625,"t":2.29},{"c":56,"w":637.5,"t":2.35},{"c":56,"w":650,"t":2.26},
{"c":57,"w":450,"t":1.80},{"c":57,"w":462.5,"t":1.90},{"c":57,"w":475,"t":2.00},{"c":57,"w":487.5,"t":1.90},{"c":57,"w":500,"t":1.80},{"c":57,"w":512.5,"t":1.87},{"c":57,"w":525,"t":1.98},{"c":57,"w":537.5,"t":1.99},{"c":57,"w":550,"t":1.88},{"c":57,"w":562.5,"t":1.81},{"c":57,"w":575,"t":1.81},{"c":57,"w":587.5,"t":1.89},{"c":57,"w":600,"t":1.98},{"c":57,"w":612.5,"t":2.00},{"c":57,"w":625,"t":1.96},{"c":57,"w":637.5,"t":1.89},{"c":57,"w":650,"t":1.82},
{"c":58,"w":450,"t":1.79},{"c":58,"w":462.5,"t":1.79},{"c":58,"w":475,"t":2.21},{"c":58,"w":487.5,"t":2.21},{"c":58,"w":500,"t":1.79},{"c":58,"w":512.5,"t":1.73},{"c":58,"w":525,"t":2.03},{"c":58,"w":537.5,"t":2.29},{"c":58,"w":550,"t":2.17},{"c":58,"w":562.5,"t":1.90},{"c":58,"w":575,"t":1.71},{"c":58,"w":587.5,"t":1.77},{"c":58,"w":600,"t":2.03},{"c":58,"w":612.5,"t":2.23},{"c":58,"w":625,"t":2.30},{"c":58,"w":637.5,"t":2.19},{"c":58,"w":650,"t":1.97},
{"c":59,"w":450,"t":2.06},{"c":59,"w":462.5,"t":2.34},{"c":59,"w":475,"t":2.34},{"c":59,"w":487.5,"t":2.06},{"c":59,"w":500,"t":2.06},{"c":59,"w":512.5,"t":2.28},{"c":59,"w":525,"t":2.40},{"c":59,"w":537.5,"t":2.25},{"c":59,"w":550,"t":2.04},{"c":59,"w":562.5,"t":2.01},{"c":59,"w":575,"t":2.15},{"c":59,"w":587.5,"t":2.33},{"c":59,"w":600,"t":2.40},{"c":59,"w":612.5,"t":2.33},{"c":59,"w":625,"t":2.18},{"c":59,"w":637.5,"t":2.05},{"c":59,"w":650,"t":2.00},
{"c":60,"w":450,"t":2.40},{"c":60,"w":462.5,"t":2.30},{"c":60,"w":475,"t":2.20},{"c":60,"w":487.5,"t":2.30},{"c":60,"w":500,"t":2.40},{"c":60,"w":512.5,"t":2.33},{"c":60,"w":525,"t":2.22},{"c":60,"w":537.5,"t":2.21},{"c":60,"w":550,"t":2.32},{"c":60,"w":562.5,"t":2.39},{"c":60,"w":575,"t":2.39},{"c":60,"w":587.5,"t":2.31},{"c":60,"w":600,"t":2.22},{"c":60,"w":612.5,"t":2.20},{"c":60,"w":625,"t":2.24},{"c":60,"w":637.5,"t":2.31},{"c":60,"w":650,"t":2.38},
{"c":61,"w":450,"t":1.75},{"c":61,"w":462.5,"t":1.85},{"c":61,"w":475,"t":1.75},{"c":61,"w":487.5,"t":1.65},{"c":61,"w":500,"t":1.75},{"c":61,"w":512.5,"t":1.84},{"c":61,"w":525,"t":1.81},{"c":61,"w":537.5,"t":1.70},{"c":61,"w":550,"t":1.65},{"c":61,"w":562.5,"t":1.71},{"c":61,"w":575,"t":1.80},{"c":61,"w":587.5,"t":1.85},{"c":61,"w":600,"t":1.81},{"c":61,"w":612.5,"t":1.74},{"c":61,"w":625,"t":1.67},{"c":61,"w":637.5,"t":1.65},{"c":61,"w":650,"t":1.69},
{"c":62,"w":450,"t":2.06},{"c":62,"w":462.5,"t":1.94},{"c":62,"w":475,"t":1.94},{"c":62,"w":487.5,"t":2.06},{"c":62,"w":500,"t":2.06},{"c":62,"w":512.5,"t":1.97},{"c":62,"w":525,"t":1.92},{"c":62,"w":537.5,"t":1.98},{"c":62,"w":550,"t":2.07},{"c":62,"w":562.5,"t":2.08},{"c":62,"w":575,"t":2.02},{"c":62,"w":587.5,"t":1.95},{"c":62,"w":600,"t":1.92},{"c":62,"w":612.5,"t":1.95},{"c":62,"w":625,"t":2.01},{"c":62,"w":637.5,"t":2.06},{"c":62,"w":650,"t":2.08},
{"c":63,"w":450,"t":2.16},{"c":63,"w":462.5,"t":2.16},{"c":63,"w":475,"t":2.04},{"c":63,"w":487.5,"t":2.04},{"c":63,"w":500,"t":2.16},{"c":63,"w":512.5,"t":2.17},{"c":63,"w":525,"t":2.09},{"c":63,"w":537.5,"t":2.02},{"c":63,"w":550,"t":2.05},{"c":63,"w":562.5,"t":2.13},{"c":63,"w":575,"t":2.18},{"c":63,"w":587.5,"t":2.16},{"c":63,"w":600,"t":2.09},{"c":63,"w":612.5,"t":2.04},{"c":63,"w":625,"t":2.02},{"c":63,"w":637.5,"t":2.05},{"c":63,"w":650,"t":2.11},
{"c":64,"w":450,"t":1.95},{"c":64,"w":462.5,"t":2.14},{"c":64,"w":475,"t":2.08},{"c":64,"w":487.5,"t":1.85},{"c":64,"w":500,"t":1.75},{"c":64,"w":512.5,"t":1.88},{"c":64,"w":525,"t":2.08},{"c":64,"w":537.5,"t":2.15},{"c":64,"w":550,"t":2.02},{"c":64,"w":562.5,"t":1.85},{"c":64,"w":575,"t":1.75},{"c":64,"w":587.5,"t":1.80},{"c":64,"w":600,"t":1.95},{"c":64,"w":612.5,"t":2.09},{"c":64,"w":625,"t":2.15},{"c":64,"w":637.5,"t":2.09},{"c":64,"w":650,"t":1.95},
{"c":65,"w":450,"t":2.30},{"c":65,"w":462.5,"t":2.20},{"c":65,"w":475,"t":2.03},{"c":65,"w":487.5,"t":2.02},{"c":65,"w":500,"t":2.18},{"c":65,"w":512.5,"t":2.29},{"c":65,"w":525,"t":2.27},{"c":65,"w":537.5,"t":2.12},{"c":65,"w":550,"t":2.01},{"c":65,"w":562.5,"t":2.02},{"c":65,"w":575,"t":2.12},{"c":65,"w":587.5,"t":2.25},{"c":65,"w":600,"t":2.30},{"c":65,"w":612.5,"t":2.26},{"c":65,"w":625,"t":2.15},{"c":65,"w":637.5,"t":2.04},{"c":65,"w":650,"t":2.00},
{"c":66,"w":450,"t":1.79},{"c":66,"w":462.5,"t":1.76},{"c":66,"w":475,"t":1.91},{"c":66,"w":487.5,"t":2.05},{"c":66,"w":500,"t":1.99},{"c":66,"w":512.5,"t":1.84},{"c":66,"w":525,"t":1.75},{"c":66,"w":537.5,"t":1.81},{"c":66,"w":550,"t":1.96},{"c":66,"w":562.5,"t":2.05},{"c":66,"w":575,"t":2.02},{"c":66,"w":587.5,"t":1.91},{"c":66,"w":600,"t":1.79},{"c":66,"w":612.5,"t":1.75},{"c":66,"w":625,"t":1.79},{"c":66,"w":637.5,"t":1.90},{"c":66,"w":650,"t":2.01},
{"c":67,"w":450,"t":1.94},{"c":67,"w":462.5,"t":2.11},{"c":67,"w":475,"t":2.20},{"c":67,"w":487.5,"t":2.09},{"c":67,"w":500,"t":1.93},{"c":67,"w":512.5,"t":1.91},{"c":67,"w":525,"t":2.04},{"c":67,"w":537.5,"t":2.17},{"c":67,"w":550,"t":2.19},{"c":67,"w":562.5,"t":2.09},{"c":67,"w":575,"t":1.96},{"c":67,"w":587.5,"t":1.90},{"c":67,"w":600,"t":1.94},{"c":67,"w":612.5,"t":2.05},{"c":67,"w":625,"t":2.16},{"c":67,"w":637.5,"t":2.20},{"c":67,"w":650,"t":2.16},
{"c":68,"w":450,"t":2.39},{"c":68,"w":462.5,"t":2.43},{"c":68,"w":475,"t":2.23},{"c":68,"w":487.5,"t":2.06},{"c":68,"w":500,"t":2.14},{"c":68,"w":512.5,"t":2.33},{"c":68,"w":525,"t":2.45},{"c":68,"w":537.5,"t":2.36},{"c":68,"w":550,"t":2.17},{"c":68,"w":562.5,"t":2.06},{"c":68,"w":575,"t":2.09},{"c":68,"w":587.5,"t":2.23},{"c":68,"w":600,"t":2.39},{"c":68,"w":612.5,"t":2.45},{"c":68,"w":625,"t":2.39},{"c":68,"w":637.5,"t":2.25},{"c":68,"w":650,"t":2.11},
{"c":69,"w":450,"t":1.94},{"c":69,"w":462.5,"t":1.72},{"c":69,"w":475,"t":1.65},{"c":69,"w":487.5,"t":1.75},{"c":69,"w":500,"t":1.96},{"c":69,"w":512.5,"t":1.98},{"c":69,"w":525,"t":1.82},{"c":69,"w":537.5,"t":1.64},{"c":69,"w":550,"t":1.62},{"c":69,"w":562.5,"t":1.75},{"c":69,"w":575,"t":1.91},{"c":69,"w":587.5,"t":2.00},{"c":69,"w":600,"t":1.94},{"c":69,"w":612.5,"t":1.80},{"c":69,"w":625,"t":1.66},{"c":69,"w":637.5,"t":1.63},{"c":69,"w":650,"t":1.66},
{"c":70,"w":450,"t":2.10},{"c":70,"w":462.5,"t":1.99},{"c":70,"w":475,"t":2.02},{"c":70,"w":487.5,"t":2.16},{"c":70,"w":500,"t":2.22},{"c":70,"w":512.5,"t":2.14},{"c":70,"w":525,"t":2.02},{"c":70,"w":537.5,"t":1.98},{"c":70,"w":550,"t":2.06},{"c":70,"w":562.5,"t":2.16},{"c":70,"w":575,"t":2.22},{"c":70,"w":587.5,"t":2.19},{"c":70,"w":600,"t":2.10},{"c":70,"w":612.5,"t":2.01},{"c":70,"w":625,"t":1.98},{"c":70,"w":637.5,"t":2.01},{"c":70,"w":650,"t":2.10},
{"c":71,"w":450,"t":1.88},{"c":71,"w":462.5,"t":1.96},{"c":71,"w":475,"t":2.09},{"c":71,"w":487.5,"t":2.10},{"c":71,"w":500,"t":1.98},{"c":71,"w":512.5,"t":1.89},{"c":71,"w":525,"t":1.91},{"c":71,"w":537.5,"t":2.02},{"c":71,"w":550,"t":2.11},{"c":71,"w":562.5,"t":2.10},{"c":71,"w":575,"t":2.02},{"c":71,"w":587.5,"t":1.92},{"c":71,"w":600,"t":1.88},{"c":71,"w":612.5,"t":1.92},{"c":71,"w":625,"t":2.00},{"c":71,"w":637.5,"t":2.09},{"c":71,"w":650,"t":2.12},
{"c":72,"w":450,"t":2.27},{"c":72,"w":462.5,"t":2.24},{"c":72,"w":475,"t":2.36},{"c":72,"w":487.5,"t":2.47},{"c":72,"w":500,"t":2.42},{"c":72,"w":512.5,"t":2.30},{"c":72,"w":525,"t":2.23},{"c":72,"w":537.5,"t":2.28},{"c":72,"w":550,"t":2.40},{"c":72,"w":562.5,"t":2.47},{"c":72,"w":575,"t":2.45},{"c":72,"w":587.5,"t":2.36},{"c":72,"w":600,"t":2.27},{"c":72,"w":612.5,"t":2.23},{"c":72,"w":625,"t":2.27},{"c":72,"w":637.5,"t":2.35},{"c":72,"w":650,"t":2.44},
{"c":73,"w":450,"t":1.68},{"c":73,"w":462.5,"t":1.79},{"c":73,"w":475,"t":1.85},{"c":73,"w":487.5,"t":1.78},{"c":73,"w":500,"t":1.67},{"c":73,"w":512.5,"t":1.66},{"c":73,"w":525,"t":1.74},{"c":73,"w":537.5,"t":1.83},{"c":73,"w":550,"t":1.84},{"c":73,"w":562.5,"t":1.78},{"c":73,"w":575,"t":1.69},{"c":73,"w":587.5,"t":1.65},{"c":73,"w":600,"t":1.68},{"c":73,"w":612.5,"t":1.75},{"c":73,"w":625,"t":1.82},{"c":73,"w":637.5,"t":1.85},{"c":73,"w":650,"t":1.82},
{"c":74,"w":450,"t":1.82},{"c":74,"w":462.5,"t":1.88},{"c":74,"w":475,"t":1.82},{"c":74,"w":487.5,"t":1.76},{"c":74,"w":500,"t":1.82},{"c":74,"w":512.5,"t":1.88},{"c":74,"w":525,"t":1.86},{"c":74,"w":537.5,"t":1.79},{"c":74,"w":550,"t":1.76},{"c":74,"w":562.5,"t":1.79},{"c":74,"w":575,"t":1.85},{"c":74,"w":587.5,"t":1.88},{"c":74,"w":600,"t":1.86},{"c":74,"w":612.5,"t":1.81},{"c":74,"w":625,"t":1.77},{"c":74,"w":637.5,"t":1.76},{"c":74,"w":650,"t":1.78},
{"c":75,"w":450,"t":1.96},{"c":75,"w":462.5,"t":1.88},{"c":75,"w":475,"t":1.80},{"c":75,"w":487.5,"t":1.88},{"c":75,"w":500,"t":1.96},{"c":75,"w":512.5,"t":1.91},{"c":75,"w":525,"t":1.82},{"c":75,"w":537.5,"t":1.81},{"c":75,"w":550,"t":1.89},{"c":75,"w":562.5,"t":1.95},{"c":75,"w":575,"t":1.95},{"c":75,"w":587.5,"t":1.89},{"c":75,"w":600,"t":1.82},{"c":75,"w":612.5,"t":1.80},{"c":75,"w":625,"t":1.83},{"c":75,"w":637.5,"t":1.89},{"c":75,"w":650,"t":1.94},
{"c":76,"w":450,"t":1.98},{"c":76,"w":462.5,"t":1.98},{"c":76,"w":475,"t":1.88},{"c":76,"w":487.5,"t":1.88},{"c":76,"w":500,"t":1.98},{"c":76,"w":512.5,"t":1.99},{"c":76,"w":525,"t":1.92},{"c":76,"w":537.5,"t":1.86},{"c":76,"w":550,"t":1.89},{"c":76,"w":562.5,"t":1.95},{"c":76,"w":575,"t":2.00},{"c":76,"w":587.5,"t":1.98},{"c":76,"w":600,"t":1.92},{"c":76,"w":612.5,"t":1.88},{"c":76,"w":625,"t":1.86},{"c":76,"w":637.5,"t":1.89},{"c":76,"w":650,"t":1.94},
{"c":77,"w":450,"t":2.04},{"c":77,"w":462.5,"t":1.92},{"c":77,"w":475,"t":1.92},{"c":77,"w":487.5,"t":2.04},{"c":77,"w":500,"t":2.04},{"c":77,"w":512.5,"t":1.94},{"c":77,"w":525,"t":1.89},{"c":77,"w":537.5,"t":1.96},{"c":77,"w":550,"t":2.05},{"c":77,"w":562.5,"t":2.07},{"c":77,"w":575,"t":2.00},{"c":77,"w":587.5,"t":1.92},{"c":77,"w":600,"t":1.89},{"c":77,"w":612.5,"t":1.92},{"c":77,"w":625,"t":1.99},{"c":77,"w":637.5,"t":2.05},{"c":77,"w":650,"t":2.07},
{"c":78,"w":450,"t":2.03},{"c":78,"w":462.5,"t":1.96},{"c":78,"w":475,"t":2.03},{"c":78,"w":487.5,"t":2.10},{"c":78,"w":500,"t":2.03},{"c":78,"w":512.5,"t":1.96},{"c":78,"w":525,"t":1.99},{"c":78,"w":537.5,"t":2.07},{"c":78,"w":550,"t":2.10},{"c":78,"w":562.5,"t":2.06},{"c":78,"w":575,"t":1.99},{"c":78,"w":587.5,"t":1.96},{"c":78,"w":600,"t":1.99},{"c":78,"w":612.5,"t":2.04},{"c":78,"w":625,"t":2.08},{"c":78,"w":637.5,"t":2.10},{"c":78,"w":650,"t":2.07},
{"c":79,"w":450,"t":2.00},{"c":79,"w":462.5,"t":2.08},{"c":79,"w":475,"t":2.16},{"c":79,"w":487.5,"t":2.08},{"c":79,"w":500,"t":2.00},{"c":79,"w":512.5,"t":2.05},{"c":79,"w":525,"t":2.14},{"c":79,"w":537.5,"t":2.15},{"c":79,"w":550,"t":2.07},{"c":79,"w":562.5,"t":2.01},{"c":79,"w":575,"t":2.01},{"c":79,"w":587.5,"t":2.07},{"c":79,"w":600,"t":2.14},{"c":79,"w":612.5,"t":2.16},{"c":79,"w":625,"t":2.13},{"c":79,"w":637.5,"t":2.07},{"c":79,"w":650,"t":2.02},
{"c":80,"w":450,"t":2.07},{"c":80,"w":462.5,"t":2.07},{"c":80,"w":475,"t":2.19},{"c":80,"w":487.5,"t":2.19},{"c":80,"w":500,"t":2.07},{"c":80,"w":512.5,"t":2.05},{"c":80,"w":525,"t":2.14},{"c":80,"w":537.5,"t":2.22},{"c":80,"w":550,"t":2.18},{"c":80,"w":562.5,"t":2.10},{"c":80,"w":575,"t":2.04},{"c":80,"w":587.5,"t":2.06},{"c":80,"w":600,"t":2.14},{"c":80,"w":612.5,"t":2.20},{"c":80,"w":625,"t":2.22},{"c":80,"w":637.5,"t":2.19},{"c":80,"w":650,"t":2.12},
{"c":81,"w":450,"t":2.13},{"c":81,"w":462.5,"t":2.23},{"c":81,"w":475,"t":2.23},{"c":81,"w":487.5,"t":2.13},{"c":81,"w":500,"t":2.13},{"c":81,"w":512.5,"t":2.21},{"c":81,"w":525,"t":2.25},{"c":81,"w":537.5,"t":2.20},{"c":81,"w":550,"t":2.12},{"c":81,"w":562.5,"t":2.11},{"c":81,"w":575,"t":2.16},{"c":81,"w":587.5,"t":2.22},{"c":81,"w":600,"t":2.25},{"c":81,"w":612.5,"t":2.22},{"c":81,"w":625,"t":2.17},{"c":81,"w":637.5,"t":2.13},{"c":81,"w":650,"t":2.11},
{"c":82,"w":450,"t":2.23},{"c":82,"w":462.5,"t":2.31},{"c":82,"w":475,"t":2.28},{"c":82,"w":487.5,"t":2.19},{"c":82,"w":500,"t":2.15},{"c":82,"w":512.5,"t":2.20},{"c":82,"w":525,"t":2.28},{"c":82,"w":537.5,"t":2.31},{"c":82,"w":550,"t":2.26},{"c":82,"w":562.5,"t":2.19},{"c":82,"w":575,"t":2.15},{"c":82,"w":587.5,"t":2.17},{"c":82,"w":600,"t":2.23},{"c":82,"w":612.5,"t":2.29},{"c":82,"w":625,"t":2.31},{"c":82,"w":637.5,"t":2.29},{"c":82,"w":650,"t":2.23},
{"c":83,"w":450,"t":2.34},{"c":83,"w":462.5,"t":2.30},{"c":83,"w":475,"t":2.23},{"c":83,"w":487.5,"t":2.23},{"c":83,"w":500,"t":2.29},{"c":83,"w":512.5,"t":2.34},{"c":83,"w":525,"t":2.33},{"c":83,"w":537.5,"t":2.27},{"c":83,"w":550,"t":2.22},{"c":83,"w":562.5,"t":2.23},{"c":83,"w":575,"t":2.27},{"c":83,"w":587.5,"t":2.32},{"c":83,"w":600,"t":2.34},{"c":83,"w":612.5,"t":2.32},{"c":83,"w":625,"t":2.28},{"c":83,"w":637.5,"t":2.24},{"c":83,"w":650,"t":2.22},
{"c":84,"w":450,"t":1.73},{"c":84,"w":462.5,"t":1.72},{"c":84,"w":475,"t":1.79},{"c":84,"w":487.5,"t":1.85},{"c":84,"w":500,"t":1.82},{"c":84,"w":512.5,"t":1.75},{"c":84,"w":525,"t":1.71},{"c":84,"w":537.5,"t":1.74},{"c":84,"w":550,"t":1.81},{"c":84,"w":562.5,"t":1.85},{"c":84,"w":575,"t":1.84},{"c":84,"w":587.5,"t":1.79},{"c":84,"w":600,"t":1.73},{"c":84,"w":612.5,"t":1.71},{"c":84,"w":625,"t":1.73},{"c":84,"w":637.5,"t":1.78},{"c":84,"w":650,"t":1.83},
{"c":85,"w":450,"t":1.80},{"c":85,"w":462.5,"t":1.90},{"c":85,"w":475,"t":1.95},{"c":85,"w":487.5,"t":1.88},{"c":85,"w":500,"t":1.79},{"c":85,"w":512.5,"t":1.78},{"c":85,"w":525,"t":1.85},{"c":85,"w":537.5,"t":1.93},{"c":85,"w":550,"t":1.94},{"c":85,"w":562.5,"t":1.88},{"c":85,"w":575,"t":1.81},{"c":85,"w":587.5,"t":1.77},{"c":85,"w":600,"t":1.80},{"c":85,"w":612.5,"t":1.86},{"c":85,"w":625,"t":1.92},{"c":85,"w":637.5,"t":1.95},{"c":85,"w":650,"t":1.92},
{"c":86,"w":450,"t":2.00},{"c":86,"w":462.5,"t":1.94},{"c":86,"w":475,"t":1.96},{"c":86,"w":487.5,"t":2.03},{"c":86,"w":500,"t":2.06},{"c":86,"w":512.5,"t":2.02},{"c":86,"w":525,"t":1.96},{"c":86,"w":537.5,"t":1.94},{"c":86,"w":550,"t":1.98},{"c":86,"w":562.5,"t":2.03},{"c":86,"w":575,"t":2.06},{"c":86,"w":587.5,"t":2.05},{"c":86,"w":600,"t":2.00},{"c":86,"w":612.5,"t":1.96},{"c":86,"w":625,"t":1.94},{"c":86,"w":637.5,"t":1.96},{"c":86,"w":650,"t":2.00},
{"c":87,"w":450,"t":2.07},{"c":87,"w":462.5,"t":2.12},{"c":87,"w":475,"t":2.21},{"c":87,"w":487.5,"t":2.22},{"c":87,"w":500,"t":2.14},{"c":87,"w":512.5,"t":2.08},{"c":87,"w":525,"t":2.09},{"c":87,"w":537.5,"t":2.16},{"c":87,"w":550,"t":2.23},{"c":87,"w":562.5,"t":2.22},{"c":87,"w":575,"t":2.16},{"c":87,"w":587.5,"t":2.10},{"c":87,"w":600,"t":2.07},{"c":87,"w":612.5,"t":2.09},{"c":87,"w":625,"t":2.15},{"c":87,"w":637.5,"t":2.21},{"c":87,"w":650,"t":2.23},
{"c":88,"w":450,"t":1.99},{"c":88,"w":462.5,"t":2.01},{"c":88,"w":475,"t":1.95},{"c":88,"w":487.5,"t":1.89},{"c":88,"w":500,"t":1.92},{"c":88,"w":512.5,"t":1.98},{"c":88,"w":525,"t":2.01},{"c":88,"w":537.5,"t":1.98},{"c":88,"w":550,"t":1.93},{"c":88,"w":562.5,"t":1.89},{"c":88,"w":575,"t":1.90},{"c":88,"w":587.5,"t":1.95},{"c":88,"w":600,"t":1.99},{"c":88,"w":612.5,"t":2.01},{"c":88,"w":625,"t":1.99},{"c":88,"w":637.5,"t":1.95},{"c":88,"w":650,"t":1.91}
]
},
"layer": [
{"data": {"name": "frame"},
 "mark": {"type": "rect", "fill": "#808000", "xOffset": 4, "x2Offset": 4, "yOffset": 4, "y2Offset": 4},
 "encoding": {
  "x": {"field": "x1", "type": "quantitative", "scale": {"domain": [450, 650], "nice": false, "zero": false},
        "axis": {"values": [450,475,500,525,550,575,600,625,650], "title": "Wavelength (nm)", "domain": false, "grid": false, "labelFlush": false, "labelOverlap": false, "tickColor": "#aaaaaa", "tickSize": 8, "labelFont": "Liberation Sans", "labelFontSize": 12, "labelColor": "#111111", "labelPadding": 4, "titleFont": "Liberation Sans", "titleFontSize": 12, "titleFontWeight": "normal", "titleColor": "#111111", "titlePadding": 10}},
  "x2": {"field": "x2"},
  "y": {"field": "y1", "type": "quantitative", "scale": {"domain": [1, 3.5], "nice": false, "zero": false},
        "axis": {"values": [1,1.5,2,2.5,3,3.5], "format": ".1f", "title": "% Transmittance", "domain": false, "grid": false, "labelFlush": false, "labelOverlap": false, "tickColor": "#aaaaaa", "tickSize": 8, "labelFont": "Liberation Sans", "labelFontSize": 12, "labelColor": "#111111", "labelPadding": 3, "titleFont": "Liberation Sans", "titleFontSize": 12, "titleFontWeight": "normal", "titleColor": "#111111", "titlePadding": 17}},
  "y2": {"field": "y2"}
 }},
{"data": {"name": "frame"},
 "mark": {"type": "rect", "fill": "#ffffc0", "stroke": "#aaaaaa", "strokeWidth": 1},
 "encoding": {
  "x": {"field": "x1", "type": "quantitative"},
  "x2": {"field": "x2"},
  "y": {"field": "y1", "type": "quantitative"},
  "y2": {"field": "y2"}
 }},
{"data": {"name": "curves"},
 "mark": {"type": "line", "color": "#ff5500", "strokeWidth": 2, "interpolate": "monotone", "clip": true},
 "encoding": {
  "x": {"field": "w", "type": "quantitative"},
  "y": {"field": "t", "type": "quantitative"},
  "detail": {"field": "c", "type": "nominal"}
 }}
]
}
